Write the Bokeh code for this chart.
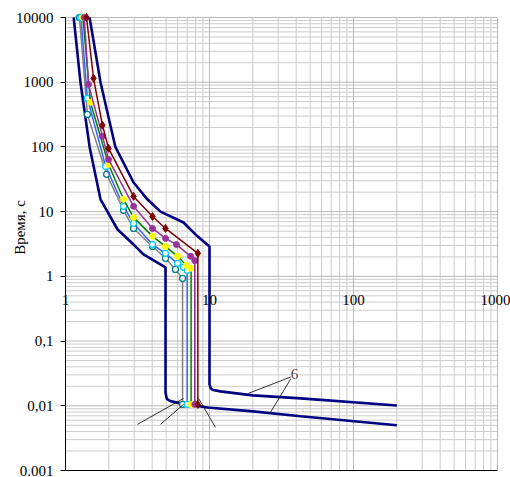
import math
from bokeh.plotting import figure
from bokeh.models import FixedTicker, Label
from bokeh.embed import file_html
from bokeh.resources import INLINE

FONT = "Liberation Serif"

# ---- axes / labels ----
y_ticks = [0.001, 0.01, 0.1, 1, 10, 100, 1000, 10000]
y_tick_labels = ["0.001", "0,01", "0,1", "1", "10", "100", "1000", "10000"]
x_ticks = [1, 10, 100, 1000]
x_tick_labels = ["1", "10", "100", "1000"]
y_title = "Время, с"
y_title_level = 5.7

# ---- outer boundary curves (navy) ----
n1_x = [1.14, 1.27, 1.47, 1.75, 2.3, 2.97, 3.48, 4.95, 4.95, 5.05, 5.35, 6.3, 9.7, 20, 43, 200]
n1_y = [10000, 1000, 100, 15.5, 5.3, 3.1, 2.19, 1.38, 0.016, 0.0128, 0.0118, 0.0109, 0.0094, 0.0082, 0.0069, 0.005]
n2_x = [1.47, 1.75, 2.22, 2.97, 3.7, 4.57, 6.6, 8.25, 10, 10, 10.2, 10.6, 11.9, 20, 43, 200]
n2_y = [10000, 1000, 100, 28.2, 15.5, 10, 6.8, 4.15, 2.9, 0.0214, 0.0185, 0.0175, 0.0167, 0.0145, 0.013, 0.0101]

# ---- inner curves ----
red_x = [1.40, 1.565, 1.806, 1.99, 2.97, 4.02, 4.95, 8.3, 8.3]
red_y = [10000, 1150, 216, 95, 17.2, 8.4, 5.5, 2.27, 0.0105]
pur_x = [1.35, 1.445, 1.806, 1.99, 2.97, 4.02, 4.95, 5.9, 7.4, 7.9, 7.9]
pur_y = [10000, 925, 146, 64, 12.1, 5.5, 3.86, 3.1, 2.04, 1.75, 0.0105]
grn_x = [1.32, 1.49, 1.99, 2.53, 2.97, 4.02, 4.95, 6.0, 6.9, 7.45, 7.45]
grn_y = [10000, 490, 53.6, 15.5, 8.15, 4.15, 2.9, 2.04, 1.48, 1.33, 0.0105]
blu_x = [1.28, 1.42, 1.9, 2.53, 2.97, 4.02, 4.95, 6.0, 6.6, 7.0, 7.0]
blu_y = [10000, 565, 50, 12.1, 6.6, 3.1, 2.27, 1.59, 1.38, 1.24, 0.0105]
gry_x = [1.25, 1.42, 1.93, 2.53, 2.97, 4.02, 4.95, 5.8, 6.5, 6.5]
gry_y = [10000, 318, 37.7, 10.5, 5.5, 2.9, 1.9, 1.28, 0.93, 0.0105]

# ---- leader lines and label ----
lead_x0 = [3.16, 4.57, 11.0, 37.6, 37.6]
lead_y0 = [0.00516, 0.00516, 0.00464, 0.0285, 0.0285]
lead_x1 = [6.6, 6.6, 8.4, 18.7, 26.5]
lead_y1 = [0.013, 0.0105, 0.013, 0.0156, 0.0079]
note_text = "6"
note_x = 38.9
note_y = 0.0306

x_minor = [m * 10 ** e for e in range(0, 3) for m in range(2, 10)]
y_minor = [m * 10 ** e for e in range(-3, 4) for m in range(2, 10)]

# ---- layout: plot area in canvas pixels ----
W, H = 510, 477
PL, PR, PT, PB = 65, 497, 17, 470
x_lo, x_hi = math.log10(x_ticks[0]), math.log10(x_ticks[-1])
y_lo, y_hi = math.log10(y_ticks[0]), math.log10(y_ticks[-1])
dx = (x_hi - x_lo) / (PR - PL)
dy = (y_hi - y_lo) / (PB - PT)
x_range = (10 ** (x_lo - PL * dx), 10 ** (x_hi + (W - PR) * dx))
y_range = (10 ** (y_lo - (H - PB) * dy), 10 ** (y_hi + PT * dy))

p = figure(width=W, height=H, x_axis_type="log", y_axis_type="log",
           x_range=x_range, y_range=y_range,
           output_backend="svg", toolbar_location=None,
           min_border_left=0, min_border_right=0,
           min_border_top=0, min_border_bottom=0)
p.outline_line_color = None
p.grid.visible = False

# ---- gridlines limited to the plot area ----
gx = x_minor
gy = y_minor
p.segment(gx, [y_ticks[0]] * len(gx), gx, [y_ticks[-1]] * len(gx), line_color="#cccccc", line_width=1)
p.segment([x_ticks[0]] * len(gy), gy, [x_ticks[-1]] * len(gy), gy, line_color="#cccccc", line_width=1)
p.segment(x_ticks, [y_ticks[0]] * len(x_ticks), x_ticks, [y_ticks[-1]] * len(x_ticks), line_color="#b8b8b8", line_width=1)
p.segment([x_ticks[0]] * len(y_ticks), y_ticks, [x_ticks[-1]] * len(y_ticks), y_ticks, line_color="#b8b8b8", line_width=1)
# bottom edge of the plot area
p.segment([x_ticks[0]], [y_ticks[0]], [x_ticks[-1]], [y_ticks[0]], line_color="black", line_width=1)

# ---- y axis crossing at x = 1 ----
ya = p.yaxis[0]
ya.fixed_location = x_ticks[0]
ya.bounds = (y_ticks[0], y_ticks[-1])
ya.ticker = FixedTicker(ticks=y_ticks)
ya.axis_line_color = "black"
ya.major_tick_line_color = "black"
ya.minor_tick_line_color = None
ya.major_tick_out = 5
ya.major_tick_in = 0
ya.major_label_standoff = 7
ya.major_label_text_font = FONT
ya.major_label_text_font_size = "15px"
ya.major_label_text_color = "black"
ya.major_label_overrides = {float(t): lab for t, lab in zip(y_ticks, y_tick_labels)}

# ---- x axis labels crossing at y = 1 ----
xa = p.xaxis[0]
xa.fixed_location = 1
xa.bounds = (x_ticks[0], x_ticks[-1])
xa.ticker = FixedTicker(ticks=x_ticks)
xa.axis_line_color = None
xa.major_tick_line_color = None
xa.minor_tick_line_color = None
xa.major_tick_out = 0
xa.major_tick_in = 0
xa.major_label_standoff = 19
xa.major_label_text_font = FONT
xa.major_label_text_font_size = "15px"
xa.major_label_text_color = "black"
xa.major_label_overrides = {float(t): lab for t, lab in zip(x_ticks, x_tick_labels)}

# outer curves
p.line(n1_x, n1_y, line_color="#000080", line_width=2.6)
p.line(n2_x, n2_y, line_color="#000080", line_width=2.6)

# inner curves with markers
p.line(gry_x, gry_y, line_color="#808080", line_width=1.5)
p.scatter(gry_x, gry_y, marker="circle", size=6, line_color="#008080", fill_color="white", line_width=1.3)
p.line(blu_x, blu_y, line_color="#3366FF", line_width=1.5)
p.scatter(blu_x, blu_y, marker="circle", size=6, line_color="#00CCFF", fill_color="white", line_width=1.3)
p.line(grn_x, grn_y, line_color="#008000", line_width=1.5)
p.scatter(grn_x, grn_y, marker="circle", size=6, line_color="#FFFF00", fill_color="#FFFF00")
p.line(pur_x, pur_y, line_color="#993399", line_width=1.5)
p.scatter(pur_x, pur_y, marker="circle", size=6, line_color="#993399", fill_color="#993399")
p.line(red_x, red_y, line_color="#800000", line_width=1.5)
p.scatter(red_x, red_y, marker="diamond", size=8, line_color="#800000", fill_color="#800000")

# leader lines
p.segment(lead_x0, lead_y0, lead_x1, lead_y1, line_color="black", line_width=0.8)
p.add_layout(Label(x=note_x, y=note_y, text=note_text, text_align="center",
                   text_baseline="middle", text_font=FONT, text_font_size="15px",
                   background_fill_color="white"))

# y title
p.add_layout(Label(x=x_ticks[0], y=y_title_level, x_offset=-46, text=y_title, angle=math.pi / 2,
                   text_align="center", text_baseline="alphabetic",
                   text_font=FONT, text_font_size="15px", text_color="black"))

open("out.html", "w").write(file_html(p, INLINE))
